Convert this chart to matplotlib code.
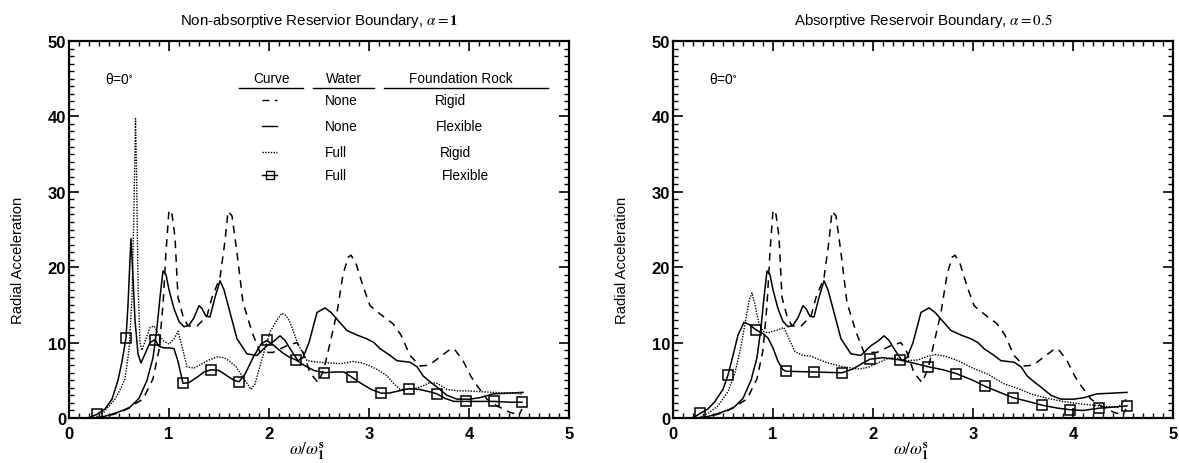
import numpy as np
import matplotlib
matplotlib.use("Agg")
import matplotlib.pyplot as plt

plt.rcParams['font.family'] = ['Liberation Sans', 'DejaVu Sans']
plt.rcParams['mathtext.fontset'] = 'stix'

# ---------------- data ----------------
# None water, rigid foundation (dashed) - same in both panels
nr_x = [0, 0.25, 0.35, 0.45, 0.55, 0.65, 0.74, 0.84, 0.9, 0.94, 0.97, 1.0, 1.03, 1.06, 1.09, 1.14,
        1.19, 1.28, 1.38, 1.43, 1.51, 1.56, 1.59, 1.63, 1.68, 1.74, 1.83, 1.91, 2.04, 2.18, 2.28,
        2.34, 2.41, 2.49, 2.55, 2.62, 2.68, 2.74, 2.79, 2.82, 2.87, 2.94, 3.01, 3.11, 3.24, 3.32,
        3.41, 3.51, 3.6, 3.7, 3.8, 3.85, 3.94, 4.02, 4.08, 4.18, 4.28, 4.41, 4.5, 4.53]
nr_y = [0, 0, 0.2, 0.5, 1.0, 1.8, 2.5, 5.2, 9, 15, 22, 27.6, 27, 24, 16, 13.5,
        12.2, 12.2, 13.5, 16, 18.6, 23.5, 27.4, 26.8, 21.9, 15.3, 11.4, 8.7, 8.7, 9.6, 10,
        8.7, 6, 4.7, 6.5, 10.5, 14, 19, 21.3, 21.6, 20.5, 17.5, 14.9, 13.8, 12.5, 11,
        8.3, 6.9, 7, 8, 9, 9.2, 7.6, 5.5, 4.3, 2.5, 1.6, 0.75, 0.4, 1.2]

# None water, flexible foundation (solid) - same in both panels
nf_x = [0, 0.3, 0.45, 0.6, 0.7, 0.78, 0.84, 0.88, 0.91, 0.94, 0.97, 1.0, 1.05, 1.1, 1.15, 1.2,
        1.25, 1.3, 1.33, 1.37, 1.41, 1.46, 1.51, 1.55, 1.6, 1.68, 1.78, 1.88, 1.98, 2.05, 2.11,
        2.16, 2.21, 2.29, 2.34, 2.4, 2.48, 2.56, 2.62, 2.68, 2.78, 2.88, 2.98, 3.05, 3.11, 3.2,
        3.28, 3.41, 3.48, 3.54, 3.61, 3.68, 3.78, 3.88, 4.01, 4.11, 4.24, 4.4, 4.54]
nf_y = [0, 0, 0.6, 1.3, 2.6, 5, 8, 12, 16, 19.5, 19, 17, 14.5, 12.8, 12.1, 12.3,
        13.3, 14.9, 14.5, 13.5, 13.4, 16, 18.2, 17, 14.5, 10.5, 8.5, 8.3, 9.6, 10.2, 10.9,
        10.3, 9.2, 7.6, 8, 10, 14, 14.6, 14, 13.1, 11.6, 11, 10.5, 10, 9.2, 8.4,
        7.6, 7.4, 6.8, 5.6, 4.8, 4.1, 3.0, 2.5, 2.5, 2.7, 3.2, 3.3, 3.4]

# Full water, rigid foundation (dotted), alpha = 1
fr1_x = [0, 0.25, 0.35, 0.46, 0.52, 0.56, 0.6, 0.63, 0.65, 0.665, 0.675, 0.69, 0.71, 0.73, 0.77,
         0.81, 0.85, 0.9, 0.95, 1.0, 1.05, 1.09, 1.13, 1.18, 1.25, 1.33, 1.4, 1.48, 1.55, 1.61,
         1.67, 1.73, 1.78, 1.82, 1.86, 1.91, 1.96, 2.01, 2.07, 2.13, 2.17, 2.21, 2.29, 2.38,
         2.5, 2.61, 2.72, 2.84, 2.93, 3.01, 3.1, 3.18, 3.25, 3.31, 3.44, 3.53, 3.61, 3.68,
         3.78, 3.88, 3.98, 4.1, 4.24, 4.4, 4.54]
fr1_y = [0, 0, 0.8, 2.5, 4, 5.2, 9, 16, 28, 39.7, 33, 18, 10, 9, 10.5,
         12, 12.2, 11, 10.2, 9.8, 10.5, 11.5, 9.5, 6.8, 6.6, 7.2, 7.7, 8.1, 8.0, 7.5,
         6.8, 5.6, 4.6, 3.8, 4.5, 6.9, 9.2, 11.4, 12.8, 13.9, 13.6, 12.7, 9.8, 7.6,
         7.4, 7.3, 7.2, 7.5, 7.3, 6.9, 6.3, 5.6, 4.5, 3.8, 3.8, 4.2, 4.7, 4.6,
         3.8, 3.6, 3.6, 3.5, 3.4, 3.3, 3.2]

# Full water, flexible foundation (squares), alpha = 1
ff1_x = [0, 0.2, 0.28, 0.36, 0.43, 0.49, 0.53, 0.57, 0.59, 0.61, 0.62, 0.635, 0.66, 0.69, 0.72,
         0.76, 0.81, 0.86, 0.9, 0.95, 1.0, 1.05, 1.09, 1.14, 1.2, 1.28, 1.35, 1.42, 1.5, 1.58,
         1.65, 1.70, 1.76, 1.84, 1.92, 1.98, 2.05, 2.13, 2.2, 2.27, 2.35, 2.45, 2.55, 2.65,
         2.75, 2.83, 2.92, 3.02, 3.12, 3.2, 3.3, 3.40, 3.5, 3.6, 3.68, 3.76, 3.85, 3.97, 4.1,
         4.25, 4.4, 4.53]
ff1_y = [0, 0, 0.5, 1.2, 2.5, 5, 7.5, 10.6, 15, 21, 23.8, 20, 13, 8.5, 7.3,
         8.5, 10, 10.4, 9.5, 9.3, 9.3, 9.2, 7.5, 4.6, 4.7, 5.4, 6.1, 6.4, 6.3, 5.6,
         5.0, 4.8, 5.8, 8.0, 9.8, 10.3, 9.6, 8.7, 8.1, 7.7, 7.0, 6.3, 6.0, 6.1,
         6.1, 5.4, 4.6, 3.8, 3.3, 3.3, 3.6, 3.9, 3.8, 3.5, 3.2, 2.6, 2.2, 2.2, 2.2,
         2.2, 2.1, 2.1]
ff1_marks = [0.28, 0.57, 0.86, 1.14, 1.42, 1.70, 1.98, 2.27, 2.55, 2.83, 3.12, 3.40, 3.68,
             3.97, 4.25, 4.53]

# Full water, rigid foundation (dotted), alpha = 0.5
fr5_x = [0, 0.25, 0.35, 0.45, 0.55, 0.62, 0.68, 0.72, 0.76, 0.79, 0.82, 0.86, 0.9, 0.95, 1.0,
         1.05, 1.11, 1.16, 1.22, 1.3, 1.38, 1.45, 1.55, 1.7, 1.85, 1.95, 2.05, 2.15, 2.22,
         2.32, 2.45, 2.55, 2.63, 2.72, 2.85, 3.0, 3.15, 3.3, 3.45, 3.6, 3.75, 3.9, 4.05,
         4.2, 4.35, 4.45, 4.54]
fr5_y = [0, 0, 0.6, 1.6, 3.5, 6, 9.5, 12.5, 15.5, 16.6, 15, 12.5, 11.5, 11.3, 11.5,
         11.7, 12.0, 10.5, 8.8, 8.3, 8.2, 7.8, 7.3, 6.8, 6.5, 6.7, 7.3, 7.9, 8.0,
         7.6, 7.7, 8.2, 8.4, 8.2, 7.6, 6.6, 5.8, 4.6, 3.9, 3.1, 2.6, 2.2, 1.9,
         1.7, 1.5, 1.4, 2.6]

# Full water, flexible foundation (squares), alpha = 0.5
ff5_x = [0, 0.2, 0.27, 0.35, 0.42, 0.5, 0.55, 0.6, 0.65, 0.71, 0.76, 0.83, 0.9, 0.95, 1.0,
         1.05, 1.1, 1.13, 1.41, 1.69, 1.8, 1.9, 1.97, 2.1, 2.27, 2.4, 2.55, 2.7, 2.83, 3.0,
         3.12, 3.25, 3.40, 3.55, 3.69, 3.85, 3.97, 4.1, 4.26, 4.54]
ff5_y = [0, 0, 0.6, 1.2, 2.2, 3.8, 5.7, 8.3, 11, 12.7, 12.4, 11.7, 11.2, 10.6, 9.3,
         7.5, 6.4, 6.2, 6.1, 6.0, 6.5, 7.3, 7.8, 8.0, 7.7, 7.3, 6.8, 6.4, 5.9, 5.0,
         4.2, 3.5, 2.7, 2.2, 1.7, 1.3, 1.1, 1.0, 1.3, 1.6]
ff5_marks = [0.27, 0.55, 0.83, 1.13, 1.41, 1.69, 1.97, 2.27, 2.55, 2.83, 3.12, 3.40, 3.69,
             3.97, 4.26, 4.54]

titles = ['Non-absorptive Reservior Boundary, $\\alpha = \\mathbf{1}$',
          'Absorptive Reservoir Boundary, $\\alpha = 0.5$']
ylabel = 'Radial Acceleration'
xlabel = '$\\omega/\\omega_{\\mathbf{1}}^{\\mathbf{s}}$'
xticks = [0, 1, 2, 3, 4, 5]
yticks = [0, 10, 20, 30, 40, 50]

leg_water = ['None', 'None', 'Full', 'Full']
leg_rock = ['Rigid', 'Flexible', 'Rigid', 'Flexible']

# ---------------- styles ----------------
DASH = (0, (5, 4))
DOT = (0, (1, 1))
LW = 1.1

fig = plt.figure(figsize=(11.79, 4.64), dpi=100)
axL = fig.add_axes([69 / 1179, 45 / 464, 500 / 1179, 377 / 464])
axR = fig.add_axes([673 / 1179, 45 / 464, 500 / 1179, 377 / 464])


def marks_idx(xs, marks):
    xs = np.asarray(xs)
    return [int(np.argmin(np.abs(xs - m))) for m in marks]


def setup(ax, title):
    ax.set_xlim(0, 5)
    ax.set_ylim(0, 50)
    ax.set_xticks(xticks)
    ax.set_yticks(yticks)
    ax.set_xticks(np.arange(0, 5.01, 0.1), minor=True)
    ax.set_yticks(np.arange(0, 50.01, 1), minor=True)
    ax.tick_params(which='major', direction='in', length=7, width=1.2, top=True, right=True,
                   labelsize=12, pad=6)
    ax.tick_params(axis='y', which='major', pad=2)
    ax.tick_params(which='minor', direction='in', length=3.5, width=1.0, top=True, right=True)
    for lab in ax.get_xticklabels() + ax.get_yticklabels():
        lab.set_fontweight('bold')
    for s in ax.spines.values():
        s.set_linewidth(1.6)
    ax.set_title(title, fontsize=10.8, pad=12)
    ax.set_ylabel(ylabel, fontsize=10.6)
    ax.yaxis.set_label_coords(-0.088, 0.42)
    ax.set_xlabel(xlabel, fontsize=12.5)
    ax.xaxis.set_label_coords(0.476, -0.058)
    ax.text(0.072, 0.9, 'θ=0$^{\\circ}$', transform=ax.transAxes, fontsize=10,
            ha='left', va='center')


for ax, title, frx, fry, ffx, ffy, ffm in [
        (axL, titles[0], fr1_x, fr1_y, ff1_x, ff1_y, ff1_marks),
        (axR, titles[1], fr5_x, fr5_y, ff5_x, ff5_y, ff5_marks)]:
    setup(ax, title)
    ax.plot(nr_x, nr_y, color='k', lw=LW, linestyle=DASH)
    ax.plot(nf_x, nf_y, color='k', lw=LW)
    ax.plot(frx, fry, color='k', lw=1.0, linestyle=DOT)
    ax.plot(ffx, ffy, color='k', lw=LW, marker='s', markersize=7, markerfacecolor='none',
            markeredgewidth=1.1, markevery=marks_idx(ffx, ffm))

# ---------------- legend table (left panel) ----------------
T = axL.transAxes
fs = 9.8
axL.text(0.404, 0.902, 'Curve', transform=T, fontsize=fs, ha='center', va='center')
axL.text(0.55, 0.902, 'Water', transform=T, fontsize=fs, ha='center', va='center')
axL.text(0.784, 0.902, 'Foundation Rock', transform=T, fontsize=fs, ha='center', va='center')
for x0, x1 in [(0.34, 0.468), (0.488, 0.61), (0.63, 0.958)]:
    axL.plot([x0, x1], [0.876, 0.876], transform=T, color='k', lw=1.0)
rows_y = [0.844, 0.774, 0.706, 0.644]
styles = [dict(linestyle=DASH), dict(linestyle='-'), dict(linestyle=DOT),
          dict(linestyle='-', marker='s', markersize=6, markerfacecolor='none',
               markeredgewidth=1.0, markevery=[1])]
rock_x = [0.732, 0.734, 0.742, 0.746]
for yy, st, w, r, rx in zip(rows_y, styles, leg_water, leg_rock, rock_x):
    axL.plot([0.386, 0.401, 0.416], [yy, yy, yy], transform=T, color='k', lw=1.0, **st)
    axL.text(0.512, yy, w, transform=T, fontsize=fs, ha='left', va='center')
    axL.text(rx, yy, r, transform=T, fontsize=fs, ha='left', va='center')

fig.savefig('out.png', dpi=100)
